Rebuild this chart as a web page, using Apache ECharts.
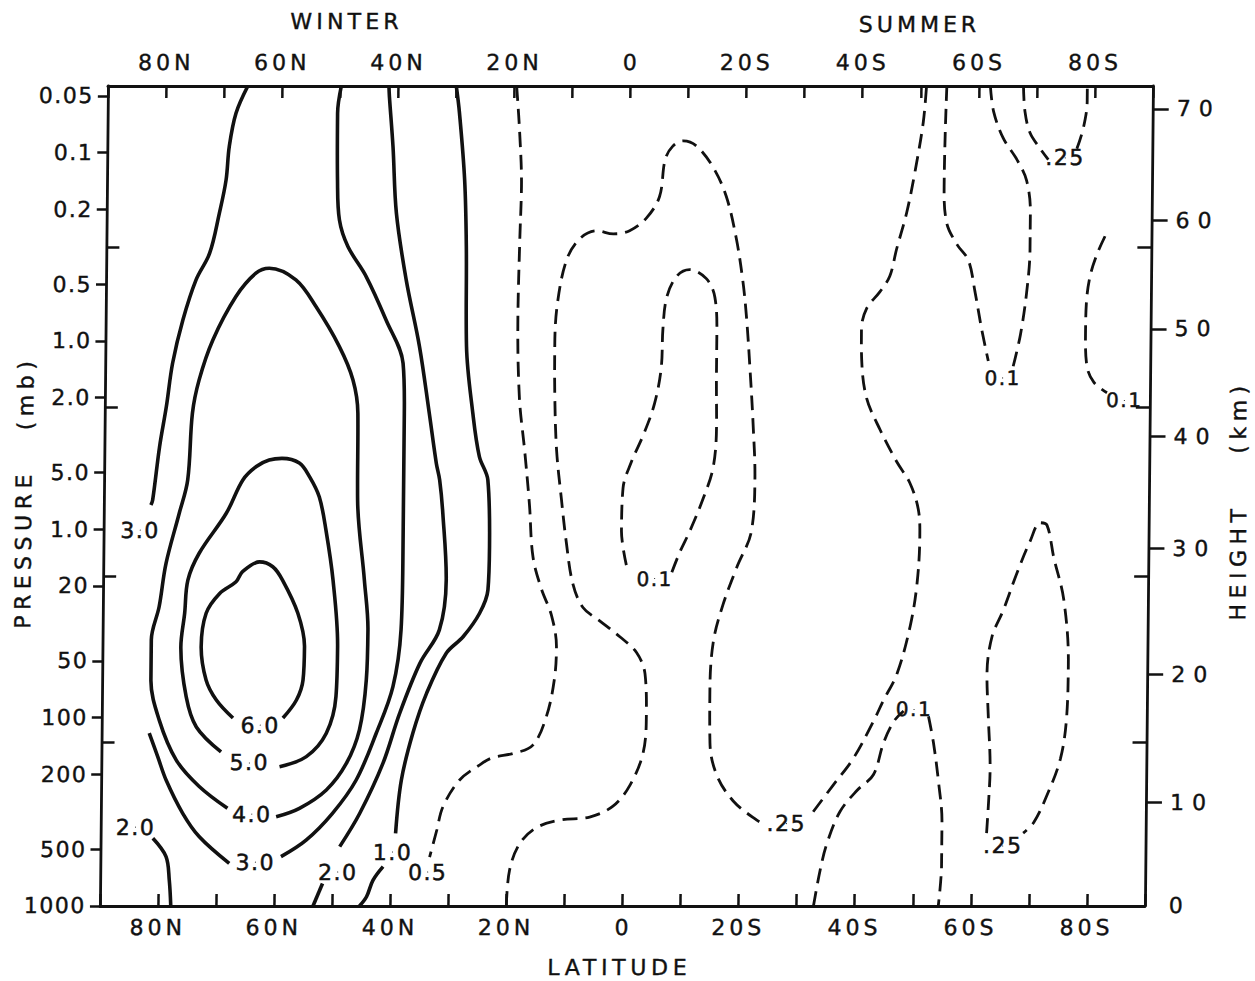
<!DOCTYPE html>
<html>
<head>
<meta charset="utf-8">
<title>Latitude–pressure section, winter and summer hemispheres</title>
<script src="https://cdn.jsdelivr.net/npm/echarts@6/dist/echarts.min.js"></script>
<style>
  html, body { margin: 0; padding: 0; background: #ffffff; overflow: hidden; }
  /* the hand-drafted frame leans slightly: its top sits a few pixels right of its base */
  #chart { width: 1255px; height: 981px; transform: skewX(-0.56deg); transform-origin: 50% 50%; }
</style>
</head>
<body>
<div id="chart"></div>
<script>
// ---------------- axis ticks and labels ----------------
// latitude: negative = north (winter), positive = south (summer)
const latLabelValues = [-80, -60, -40, -20, 0, 20, 40, 60, 80];
const latLabels = ['80N', '60N', '40N', '20N', '0', '20S', '40S', '60S', '80S'];

const pressureTicks = [0.05, 0.1, 0.2, 0.5, 1, 2, 5, 10, 20, 50, 100, 200, 500, 1000];
const pressureTickLabels = ['0.05', '0.1', '0.2', '0.5', '1.0', '2.0', '5.0', '1.0', '20', '50', '100', '200', '500', '1000'];

const heightTicks = [0, 10, 20, 30, 40, 50, 60, 70];                       // km
const heightTickPressures = [1000, 281, 58.7, 12.6, 3.2, 0.864, 0.228, 0.0586]; // mb

const innerTickPressures = [0.317, 2.24, 17.7, 135];                        // mb

const P_TOP = 0.0443;      // mb, top of frame
const P_BOTTOM = 1000;     // mb, surface

// ---------------- contours: [latitude, pressure (mb)] ----------------
// solid lines
const contour6_0 = [[-67.4,100.5],[-70.3,80.6],[-72.1,63.1],[-73.0,42.0],[-72.2,27.9],[-69.9,21.9],[-67.1,19.0],[-66.0,16.8],[-63.1,14.9],[-60.8,15.8],[-59.1,18.6],[-56.4,27.9],[-55.2,42.0],[-55.4,63.1],[-56.5,80.6],[-58.8,100.5]];
const contour5_0 = [[-69.4,152],[-73.7,112],[-75.5,77.4],[-76.5,42.0],[-75.9,27.9],[-75.4,18.6],[-73.5,13.4],[-68.9,8.22],[-66.1,5.47],[-63.8,4.64],[-61.6,4.29],[-59.4,4.20],[-56.4,4.45],[-54.6,5.27],[-52.9,6.74],[-51.7,10.1],[-50.4,18.6],[-49.5,42.0],[-49.7,77.4],[-51.3,121],[-54.7,161],[-59.3,182]];
const contour4_0 = [[-68.2,303],[-73.1,232],[-77.1,168],[-80.1,103],[-81.6,63.1],[-81.6,38.7],[-80.3,25.7],[-79.2,15.2],[-77.0,8.22],[-75.6,5.47],[-74.9,2.42],[-73.8,1.61],[-71.5,0.988],[-67.6,0.581],[-64.2,0.437],[-61.9,0.411],[-57.3,0.474],[-53.8,0.657],[-49.7,1.071],[-47.3,1.61],[-46.4,2.42],[-46.3,6.99],[-45.0,18.6],[-44.3,34.2],[-44.5,63.1],[-45.6,116],[-47.8,175],[-51.2,242],[-55.8,303],[-59.8,336]];
const contour3_0Polar = [[-65.9,0.0443],[-67.9,0.0618],[-69.0,0.0928],[-69.5,0.140],[-70.6,0.210],[-72.2,0.342],[-74.5,0.474],[-76.7,0.774],[-78.4,1.314],[-79.4,2.23],[-80.5,3.64],[-81.6,6.99],[-81.9,7.43]];
const contour3_0West = [[-81.8,121],[-80.3,161],[-78.8,215],[-75.9,322],[-73.0,429],[-67.8,594]];
const contour3_0East = [[-58.9,547],[-54.6,447],[-50.1,322],[-46.1,215],[-42.7,121],[-39.9,68.4],[-38.6,34.2],[-38.4,15.2],[-38.4,6.18],[-38.4,2.42],[-38.7,1.314],[-41.7,0.774],[-45.2,0.455],[-48.4,0.315],[-49.9,0.228],[-50.3,0.140],[-50.4,0.0618],[-49.8,0.0443]];
const contour2_0Polar = [[-81.0,437],[-78.7,547],[-78.1,729],[-77.8,1000]];
const contour2_0Surface = [[-51.7,759],[-53.3,1000]];
const contour2_0 = [[-48.8,484],[-45.4,322],[-41.5,175],[-38.7,94.9],[-35.3,51.5],[-32.0,34.2],[-30.9,18.6],[-31.6,8.22],[-32.2,5.47],[-32.8,4.47],[-34.1,2.42],[-35.9,1.071],[-38.3,0.474],[-40.1,0.210],[-40.8,0.0928],[-41.5,0.0504],[-41.6,0.0443]];
const contour1_0Surface = [[-41.3,618],[-43.0,729],[-44.1,893],[-45.3,1000]];
const contour1_0 = [[-39.2,411],[-38.3,215],[-36.4,121],[-34.1,74.3],[-30.8,45.6],[-27.9,37.2],[-25.1,27.9],[-23.7,21.0],[-23.5,12.35],[-23.9,5.47],[-25.4,4.11],[-26.6,2.42],[-27.8,1.071],[-28.0,0.315],[-28.4,0.140],[-29.4,0.0618],[-30.0,0.0443]];

// dashed lines
const contour0_5 = [[-19.6,0.0443],[-19.0,0.0785],[-18.6,0.150],[-18.8,0.287],[-19.0,0.760],[-18.6,2.01],[-17.6,3.84],[-16.7,7.34],[-16.0,14.0],[-14.5,20.7],[-12.7,28.7],[-11.8,42.3],[-12.1,62.4],[-13.4,98.1],[-15.7,140],[-19.1,155],[-22.6,163],[-24.8,178],[-28.3,215],[-31.1,298],[-32.1,395],[-33.3,550]];
const contour0_25West = [[-20.0,1000],[-19.5,644],[-17.8,466],[-14.9,383],[-10.9,350],[-5.8,337],[-1.8,295],[1.1,228],[3.3,154],[3.8,98.1],[3.5,58.6],[2.0,45.1],[-0.9,37.2],[-4.4,30.6],[-7.3,26.0],[-9.1,19.4],[-10.3,11.6],[-11.2,6.90],[-12.1,3.84],[-12.5,2.01],[-12.6,1.05],[-12.2,0.628],[-10.7,0.371],[-8.5,0.287],[-5.6,0.260],[-2.7,0.270],[0.1,0.260],[3.0,0.222],[5.2,0.171],[6.1,0.109],[7.4,0.0924],[9.2,0.0867],[11.5,0.0924],[14.4,0.120],[16.7,0.171],[18.5,0.287],[19.7,0.483],[20.4,0.760],[21.1,1.453],[21.7,2.78],[22.1,5.32],[21.6,10.17],[19.1,16.0],[16.8,25.2],[15.2,39.7],[14.7,71.3],[14.8,136],[16.0,201],[18.9,277],[23.0,350],[24.7,371]];
const contour0_25East = [[32.7,316],[36.1,228],[39.5,165],[42.9,105],[44.6,81.1],[46.9,58.5],[49.1,32.6],[50.2,19.4],[50.6,10.86],[50.3,7.85],[48.8,5.68],[46.5,4.38],[43.6,2.97],[41.2,2.01],[40.3,1.277],[40.2,0.863],[41.1,0.668],[43.3,0.549],[45.0,0.452],[46.1,0.327],[47.8,0.208],[49.2,0.124],[50.5,0.0690],[51.0,0.0443]];
const contour0_25TopA = [[67.7,0.0443],[68.0,0.0606],[68.9,0.0785],[70.7,0.0955],[72.1,0.109]];
const contour0_25TopB = [[77.0,0.0955],[78.1,0.0736],[78.7,0.0532],[78.7,0.0443]];
const contour0_25Low = [[62.6,410],[62.9,277],[63.1,188],[62.7,98.5],[62.4,58.6],[63.2,37.2],[65.1,26.9],[67.4,17.05],[69.6,11.58],[71.3,9.23],[72.5,9.53],[73.7,14.07],[75.5,23.6],[76.4,51.4],[76.2,98.5],[75.2,165],[72.9,260],[70.7,360],[68.9,410]];
const contour0_1Mid = [[0.1,15.5],[-0.8,10.17],[-0.6,6.05],[0.8,4.38],[2.8,3.16],[4.7,2.14],[5.8,1.362],[6.0,0.865],[6.6,0.587],[8.3,0.453],[10.5,0.418],[13.4,0.467],[14.9,0.587],[15.3,0.923],[15.3,1.553],[15.4,2.78],[14.9,4.67],[13.2,6.89],[11.0,10.17],[9.3,13.19],[7.9,17.05]];
const contour0_1UpperA = [[54.5,0.0443],[54.3,0.0785],[54.2,0.150],[54.7,0.236],[56.5,0.307],[58.5,0.373],[59.7,0.549],[60.9,0.865],[62.1,1.277]];
const contour0_1UpperB = [[66.4,1.362],[67.6,0.923],[68.6,0.549],[69.1,0.327],[69.1,0.208],[68.4,0.1408],[66.7,0.109],[64.3,0.0838],[62.6,0.0606],[62.0,0.0443]];
const contour0_1Edge = [[82.0,0.278],[80.6,0.349],[79.5,0.452],[78.9,0.626],[78.8,0.923],[79.1,1.362],[80.3,1.655],[82.6,1.883]];
const contour0_1LowA = [[32.9,1000],[34.0,644],[35.1,467],[37.3,316],[40.2,243.6],[43.0,201],[44.7,136],[46.4,105],[48.1,92.2]];
const contour0_1LowB = [[52.4,98.5],[53.3,136],[54.2,215],[54.9,360],[54.9,604],[54.4,1000]];

// contour labels: [latitude, pressure (mb), text]
const solidLabels = [
  [-83.7, 10.1, '3.0'], [-62.7, 109.5, '6.0'], [-64.5, 174, '5.0'], [-64.0, 325, '4.0'],
  [-63.3, 585, '3.0'], [-84.0, 381, '2.0'], [-49.1, 660, '2.0'], [-39.7, 517, '1.0'], [-33.6, 660, '0.5']
];
const dashedLabels25 = [[28.1, 365, '.25'], [75.0, 0.1067, '.25'], [65.4, 480, '.25']];
const dashedLabels10 = [[5.0, 18.25, '0.1'], [64.6, 1.572, '0.1'], [85.6, 2.07, '0.1'], [49.9, 90.5, '0.1']];

// ---------------- styling ----------------
const INK = '#111111';
const FONT = 'DejaVu Sans';
const LOG_MIN = Math.log10(P_TOP);
const LOG_MAX = Math.log10(P_BOTTOM);

const toLog = p => Math.log10(p);
const logPressureTicks = pressureTicks.map(toLog);
const logHeightTicks = heightTickPressures.map(toLog);
const logInnerTicks = innerTickPressures.map(toLog);

function lookup(values, labels) {
  return v => {
    const i = values.findIndex(t => Math.abs(t - v) < 1e-6);
    return i < 0 ? '' : labels[i];
  };
}

function contour(points, dashed) {
  return {
    type: 'line',
    data: points.map(([lat, p]) => [lat, toLog(p)]),
    smooth: 0.35,
    symbol: 'none',
    silent: true,
    clip: true,
    lineStyle: dashed
      ? { color: INK, width: 2.8, type: [15, 8] }
      : { color: INK, width: 3.6, type: 'solid' },
    z: 3
  };
}

function labels(items, size) {
  return {
    type: 'scatter',
    data: items.map(([lat, p, text]) => [lat, toLog(p), text]),
    symbolSize: 1,
    silent: true,
    itemStyle: { color: INK, opacity: 1 },
    label: {
      show: true, position: 'inside', formatter: d => d.data[2],
      color: INK, opacity: 1, fontSize: size, fontFamily: FONT,
      textBorderColor: INK, textBorderWidth: 0.5
    },
    z: 4
  };
}

const solidSet = [contour6_0, contour5_0, contour4_0, contour3_0Polar, contour3_0West, contour3_0East,
  contour2_0Polar, contour2_0Surface, contour2_0, contour1_0Surface, contour1_0];
const dashedSet = [contour0_5, contour0_25West, contour0_25East, contour0_25TopA, contour0_25TopB,
  contour0_25Low, contour0_1Mid, contour0_1UpperA, contour0_1UpperB, contour0_1Edge, contour0_1LowA, contour0_1LowB];

const axisLineStyle = { color: INK, width: 2.8 };
const tickStyle = { color: INK, width: 2.5 };
const labelFont = { color: INK, fontSize: 22, fontFamily: FONT, textBorderColor: INK, textBorderWidth: 0.4 };

const latAxis = (position, margin) => ({
  type: 'value', position, min: -90, max: 90, interval: 10,
  axisLine: { show: true, onZero: false, lineStyle: axisLineStyle },
  axisTick: { show: true, inside: true, length: 12, lineStyle: tickStyle },
  axisLabel: Object.assign({ customValues: latLabelValues, formatter: lookup(latLabelValues, latLabels), margin }, labelFont),
  splitLine: { show: false }
});

const pressureAxis = (position, extra) => Object.assign({
  type: 'value', position, inverse: true, min: LOG_MIN, max: LOG_MAX,
  splitLine: { show: false }
}, extra);

const titleStyle = text => ({
  text, fill: INK, font: '22px "DejaVu Sans"', stroke: INK, lineWidth: 0.4,
  align: 'center', verticalAlign: 'middle', textAlign: 'center', textVerticalAlign: 'middle'
});

const option = {
  backgroundColor: '#ffffff',
  animation: false,
  grid: { left: 104, right: 106, top: 86, bottom: 75, containLabel: false, outerBoundsMode: 'none' },
  xAxis: [latAxis('bottom', 10), latAxis('top', 13)],
  yAxis: [
    pressureAxis('left', {
      axisLine: { show: true, onZero: false, lineStyle: axisLineStyle },
      axisTick: { show: true, inside: false, length: 10, customValues: logPressureTicks, lineStyle: tickStyle },
      axisLabel: Object.assign({ customValues: logPressureTicks, formatter: lookup(logPressureTicks, pressureTickLabels), margin: 14 }, labelFont)
    }),
    pressureAxis('right', {
      axisLine: { show: true, onZero: false, lineStyle: axisLineStyle },
      axisTick: { show: true, inside: false, length: 16, customValues: logHeightTicks.slice(1), lineStyle: tickStyle },
      axisLabel: Object.assign({ customValues: logHeightTicks, formatter: lookup(logHeightTicks, heightTicks.map(String)), margin: 24 }, labelFont)
    }),
    pressureAxis('left', {
      axisLine: { show: false, onZero: false },
      axisTick: { show: true, inside: true, length: 13, customValues: logInnerTicks, lineStyle: tickStyle },
      axisLabel: { show: false }
    }),
    pressureAxis('right', {
      axisLine: { show: false, onZero: false },
      axisTick: { show: true, inside: true, length: 14, customValues: logInnerTicks, lineStyle: tickStyle },
      axisLabel: { show: false }
    })
  ],
  graphic: [
    { type: 'text', x: 342, y: 22, style: titleStyle('WINTER') },
    { type: 'text', x: 915, y: 25, style: titleStyle('SUMMER') },
    { type: 'text', x: 624, y: 968, style: titleStyle('LATITUDE') },
    { type: 'text', x: 24, y: 549, rotation: Math.PI / 2, style: titleStyle('PRESSURE') },
    { type: 'text', x: 25, y: 393, rotation: Math.PI / 2, style: titleStyle('(mb)') },
    { type: 'text', x: 1239, y: 562, rotation: Math.PI / 2, style: titleStyle('HEIGHT') },
    { type: 'text', x: 1238, y: 417, rotation: Math.PI / 2, style: titleStyle('(km)') }
  ],
  series: [
    ...solidSet.map(c => contour(c, false)),
    ...dashedSet.map(c => contour(c, true)),
    labels(solidLabels, 22),
    labels(dashedLabels25, 22),
    labels(dashedLabels10, 20)
  ]
};

const chart = echarts.init(document.getElementById('chart'), null, { renderer: 'svg' });
chart.setOption(option);

// hand-lettered look: open up the letter spacing of the SVG text
const spacingByText = { 'PRESSURE': 5.5, '(mb)': 5.5, 'HEIGHT': 5.5, '(km)': 5.5, 'LATITUDE': 4.7, 'WINTER': 4.2, 'SUMMER': 4 };
function spaceLetters() {
  document.querySelectorAll('#chart svg text').forEach(t => {
    const s = t.textContent;
    let ls = 1.5;
    if (spacingByText[s] != null) ls = spacingByText[s];
    else if (t.getBoundingClientRect().left > 1160) ls = 8;
    else if (latLabels.includes(s) && s !== '0') ls = 4;
    t.style.letterSpacing = ls + 'px';
  });
}
chart.on('finished', spaceLetters);
if (chart.getZr().flush) chart.getZr().flush();
spaceLetters();
</script>
</body>
</html>
